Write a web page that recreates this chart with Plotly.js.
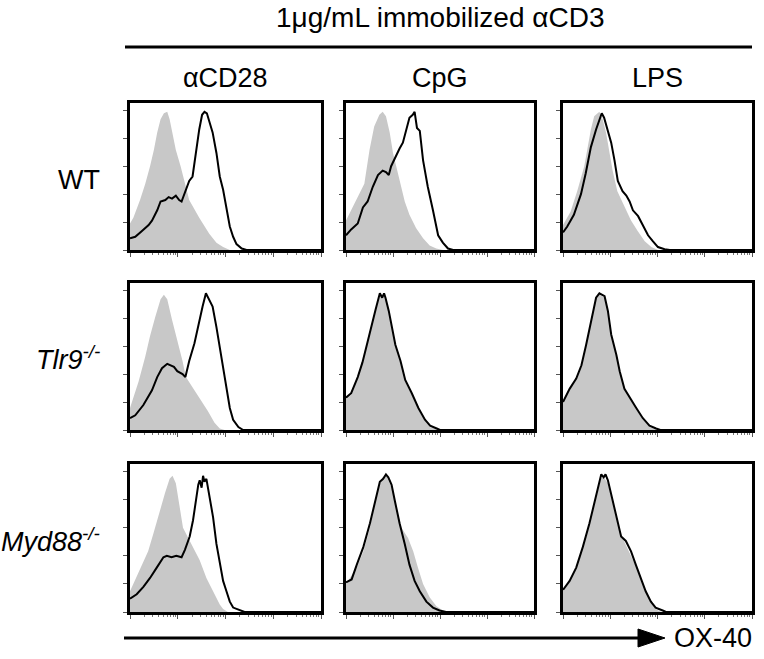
<!DOCTYPE html>
<html><head><meta charset="utf-8">
<script src="https://cdn.plot.ly/plotly-3.0.1.min.js"></script>
<style>body{margin:0;background:#fff}#c{width:764px;height:659px}</style>
</head><body><div id="c"></div>
<script>
// Column / row labels
const columns = ["\u03b1CD28", "CpG", "LPS"];
const rows = ["WT", "<i>Tlr9</i><sup><i>-/-</i></sup>", "<i>Myd88</i><sup><i>-/-</i></sup>"];
const headerText = "1\u03bcg/mL immobilized \u03b1CD3";
const axisLabel = "OX-40";

// x = log10 OX-40 fluorescence (decades), y = % of max count
// WT / aCD28
const wt_cd28_gray_x = [0,0.07,0.21,0.32,0.42,0.50,0.57,0.64,0.71,0.78,0.83,0.88,0.96,1.06,1.13,1.24,1.45,1.66,1.81,1.95,2.09,4];
const wt_cd28_gray_y = [18,22,34,45,57,68,80,89,93,94,89,80,68,57,48,34,22,11,5,2,0,0];
const wt_cd28_line_x = [0,0.11,0.25,0.39,0.46,0.57,0.64,0.74,0.81,0.88,0.96,1.03,1.08,1.17,1.24,1.31,1.38,1.45,1.51,1.56,1.61,1.66,1.73,1.81,1.88,1.95,2.02,2.09,2.16,2.23,2.34,2.44,4];
const wt_cd28_line_y = [8,9,13,17,20,27,33,34,36,35,37,34,33,41,47,50,66,82,92,94,93,87,80,66,50,41,29,16,9,4,1,0,0];
// WT / CpG
const wt_cpg_gray_x = [0,0.21,0.39,0.50,0.60,0.71,0.78,0.85,0.93,1.00,1.07,1.14,1.25,1.35,1.49,1.64,1.78,1.92,2.06,4];
const wt_cpg_gray_y = [20,33,45,68,84,92,94,91,80,66,57,47,33,24,15,8,3,1,0,0];
const wt_cpg_line_x = [0,0.11,0.25,0.36,0.46,0.57,0.68,0.78,0.85,0.91,0.96,1.07,1.14,1.21,1.28,1.35,1.42,1.46,1.51,1.57,1.64,1.74,1.85,1.96,2.06,2.17,2.28,4];
const wt_cpg_line_y = [10,14,18,29,33,43,51,54,53,51,57,65,69,73,82,90,92,94,83,81,61,43,27,10,5,1,0,0];
// WT / LPS
const wt_lps_gray_x = [0,0.16,0.30,0.45,0.59,0.66,0.77,0.84,0.91,0.98,1.05,1.15,1.30,1.44,1.58,1.73,1.87,2.01,4];
const wt_lps_gray_y = [17,26,40,57,82,91,94,89,80,68,54,40,29,20,13,6,2,0,0];
const wt_lps_line_x = [0,0.09,0.23,0.38,0.48,0.59,0.70,0.77,0.82,0.87,0.94,1.02,1.09,1.16,1.26,1.34,1.41,1.48,1.59,1.69,1.80,1.90,2.01,2.15,2.26,4];
const wt_lps_line_y = [12,16,24,38,52,70,82,89,93,90,82,73,61,47,40,37,33,27,23,17,10,6,2,0.5,0,0];
// Tlr9-/- / aCD28
const tlr9_cd28_gray_x = [0,0.18,0.32,0.42,0.53,0.64,0.71,0.78,0.88,0.99,1.10,1.17,1.27,1.45,1.63,1.77,1.88,1.98,4];
const tlr9_cd28_gray_y = [15,33,50,64,77,89,92,89,75,61,47,36,31,22,13,5,1,0,0];
const tlr9_cd28_line_x = [0,0.11,0.28,0.46,0.57,0.67,0.78,0.85,0.92,0.99,1.10,1.16,1.24,1.35,1.45,1.52,1.59,1.66,1.73,1.81,1.88,1.95,2.02,2.09,2.16,2.27,2.37,4];
const tlr9_cd28_line_y = [8,10,17,27,36,42,45,44,43,40,38,36,47,59,75,84,93,89,84,70,57,43,29,15,7,2,0,0];
// Tlr9-/- / CpG
const tlr9_cpg_gray_x = [0,0.11,0.25,0.35,0.46,0.56,0.63,0.72,0.81,0.84,0.91,0.98,1.05,1.16,1.26,1.40,1.54,1.68,1.79,1.93,2.0,4];
const tlr9_cpg_gray_y = [21,24,35,45,59,73,81,92,92,89,80,68,57,46,33,24,14,6,2,0.5,0,0];
const tlr9_cpg_line_x = [0,0.11,0.25,0.35,0.46,0.56,0.63,0.72,0.77,0.81,0.84,0.91,0.98,1.05,1.16,1.26,1.40,1.54,1.68,1.79,1.93,2.0,4];
const tlr9_cpg_line_y = [22,25,36,46,60,74,82,93,90,93,90,81,69,58,47,34,25,15,7,3,1,0,0];
// Tlr9-/- / LPS
const tlr9_lps_gray_x = [0,0.14,0.28,0.39,0.49,0.60,0.70,0.77,0.88,0.95,1.02,1.13,1.20,1.30,1.41,1.55,1.69,1.83,1.97,2.06,4];
const tlr9_lps_gray_y = [18,27,34,43,57,73,89,92,90,80,64,50,39,27,21,14,7,2,0.5,0,0];
const tlr9_lps_line_x = [0,0.14,0.28,0.39,0.49,0.60,0.70,0.77,0.88,0.95,1.02,1.13,1.20,1.30,1.41,1.55,1.69,1.83,1.97,2.06,4];
const tlr9_lps_line_y = [19,28,35,44,58,74,90,93,91,81,65,51,40,28,22,15,8,3,1,0,0];
// Myd88-/- / aCD28
const myd88_cd28_gray_x = [0,0.07,0.21,0.38,0.49,0.63,0.73,0.83,0.89,0.96,1.04,1.11,1.22,1.32,1.46,1.60,1.74,1.88,1.95,2.05,4];
const myd88_cd28_gray_y = [14,19,28,41,53,69,80,90,92,87,71,57,50,44,35,23,14,5,2,0,0];
const myd88_cd28_line_x = [0,0.14,0.28,0.42,0.56,0.70,0.77,0.87,0.97,1.08,1.15,1.25,1.32,1.39,1.43,1.46,1.50,1.53,1.56,1.60,1.67,1.74,1.81,1.88,1.95,2.02,2.09,2.16,2.30,2.40,4];
const myd88_cd28_line_y = [9,12,17,23,30,37,38,37,38,37,42,51,62,78,86,89,84,92,88,90,78,64,46,32,21,14,7,3,1,0,0];
// Myd88-/- / CpG
const myd88_cpg_gray_x = [0,0.23,0.37,0.51,0.65,0.78,0.86,0.97,1.07,1.18,1.32,1.43,1.53,1.64,1.78,1.92,2.06,2.2,4];
const myd88_cpg_gray_y = [19,30,41,57,80,91,92,84,71,57,50,41,30,19,10,4,1,0,0];
const myd88_cpg_line_x = [0,0.12,0.23,0.37,0.51,0.61,0.72,0.79,0.85,0.90,0.97,1.04,1.14,1.25,1.35,1.46,1.57,1.71,1.85,1.99,2.13,4];
const myd88_cpg_line_y = [20,22,32,44,60,73,88,90,93,91,86,75,60,46,32,21,14,7,3,1,0,0];
// Myd88-/- / LPS
const myd88_lps_gray_x = [0,0.14,0.28,0.42,0.56,0.70,0.80,0.86,0.95,1.02,1.09,1.16,1.26,1.40,1.54,1.65,1.75,1.86,1.96,2.08,4];
const myd88_lps_gray_y = [14,20,29,43,59,77,90,91,87,78,68,59,50,41,31,22,13,6,2,0,0];
const myd88_lps_line_x = [0,0.14,0.28,0.42,0.56,0.70,0.77,0.81,0.86,0.90,0.95,1.02,1.09,1.16,1.23,1.33,1.44,1.54,1.65,1.75,1.86,1.96,2.11,2.18,4];
const myd88_lps_line_y = [15,21,30,44,60,78,89,93,91,93,89,80,71,60,51,48,41,32,23,14,7,3,1,0,0];

const panels = [
  [wt_cd28_gray_x, wt_cd28_gray_y, wt_cd28_line_x, wt_cd28_line_y],
  [wt_cpg_gray_x, wt_cpg_gray_y, wt_cpg_line_x, wt_cpg_line_y],
  [wt_lps_gray_x, wt_lps_gray_y, wt_lps_line_x, wt_lps_line_y],
  [tlr9_cd28_gray_x, tlr9_cd28_gray_y, tlr9_cd28_line_x, tlr9_cd28_line_y],
  [tlr9_cpg_gray_x, tlr9_cpg_gray_y, tlr9_cpg_line_x, tlr9_cpg_line_y],
  [tlr9_lps_gray_x, tlr9_lps_gray_y, tlr9_lps_line_x, tlr9_lps_line_y],
  [myd88_cd28_gray_x, myd88_cd28_gray_y, myd88_cd28_line_x, myd88_cd28_line_y],
  [myd88_cpg_gray_x, myd88_cpg_gray_y, myd88_cpg_line_x, myd88_cpg_line_y],
  [myd88_lps_gray_x, myd88_lps_gray_y, myd88_lps_line_x, myd88_lps_line_y]
];

const W = 764, H = 659;
const colPx = [[130, 321], [346, 534], [563, 752]];
const rowPx = [[103, 250], [283, 430], [464, 612]];
const px = v => v / W, py = v => 1 - v / H;

const majorX = [0, 1, 2, 3, 4];
const minorX = [];
for (let d = 0; d < 4; d++) for (let k = 2; k <= 9; k++) minorX.push(d + Math.log10(k));

const data = [];
const layout = {
  width: W, height: H, margin: {l: 0, r: 0, t: 0, b: 0},
  paper_bgcolor: "#fff", plot_bgcolor: "#fff", showlegend: false,
  font: {family: "Liberation Sans, Arial, sans-serif", color: "#000"},
  annotations: [], shapes: []
};

panels.forEach((p, i) => {
  const r = Math.floor(i / 3), c = i % 3;
  const n = i === 0 ? "" : String(i + 1);
  data.push({x: p[0], y: p[1], xaxis: "x" + n, yaxis: "y" + n, type: "scatter", mode: "lines",
    fill: "tozeroy", fillcolor: "#c8c8c8", line: {width: 0, color: "#c8c8c8"}, hoverinfo: "skip"});
  data.push({x: p[2], y: p[3], xaxis: "x" + n, yaxis: "y" + n, type: "scatter", mode: "lines",
    line: {width: 2, color: "#000"}, hoverinfo: "skip"});
  layout["xaxis" + n] = {
    domain: [px(colPx[c][0]), px(colPx[c][1])], anchor: "y" + n, range: [0, 4],
    showgrid: false, zeroline: false, showline: true, mirror: true, linecolor: "#000", linewidth: 3,
    ticks: "outside", tickvals: majorX, ticklen: 4, tickwidth: 1, tickcolor: "#555", showticklabels: false,
    minor: {tickvals: minorX, ticks: "outside", ticklen: 2, tickwidth: 1, tickcolor: "#777", showgrid: false}
  };
  layout["yaxis" + n] = {
    domain: [py(rowPx[r][1]), py(rowPx[r][0])], anchor: "x" + n, range: [0, 100],
    showgrid: false, zeroline: false, showline: true, mirror: true, linecolor: "#000", linewidth: 3,
    ticks: "outside", tick0: 0, dtick: 19, ticklen: 4, tickwidth: 1, tickcolor: "#555", showticklabels: false
  };
});

const fs = 27;
layout.annotations.push({xref: "paper", yref: "paper", x: px(440), y: py(18), text: headerText,
  showarrow: false, xanchor: "center", yanchor: "middle", font: {size: 28}});
columns.forEach((t, c) => layout.annotations.push({xref: "paper", yref: "paper",
  x: px((colPx[c][0] + colPx[c][1]) / 2), y: py(78), text: t, showarrow: false,
  xanchor: "center", yanchor: "middle", font: {size: fs}}));
const rowY = [180, 358, 540];
rows.forEach((t, r) => layout.annotations.push({xref: "paper", yref: "paper",
  x: px(102), y: py(rowY[r]), text: t, showarrow: false, xanchor: "right", yanchor: "middle", font: {size: fs}}));
layout.annotations.push({xref: "paper", yref: "paper", x: px(672), y: py(638), text: axisLabel,
  showarrow: false, xanchor: "left", yanchor: "middle", font: {size: fs}});

layout.shapes.push({type: "line", xref: "paper", yref: "paper", x0: px(125), x1: px(752), y0: py(47), y1: py(47),
  line: {color: "#000", width: 3}});
layout.shapes.push({type: "line", xref: "paper", yref: "paper", x0: px(124), x1: px(645), y0: py(638), y1: py(638),
  line: {color: "#000", width: 3}});
layout.shapes.push({type: "path", xref: "paper", yref: "paper",
  path: `M ${px(638)} ${py(629)} L ${px(665)} ${py(638)} L ${px(638)} ${py(647)} Z`,
  fillcolor: "#000", line: {color: "#000", width: 1}});

Plotly.newPlot("c", data, layout, {staticPlot: true, displayModeBar: false});
</script></body></html>
